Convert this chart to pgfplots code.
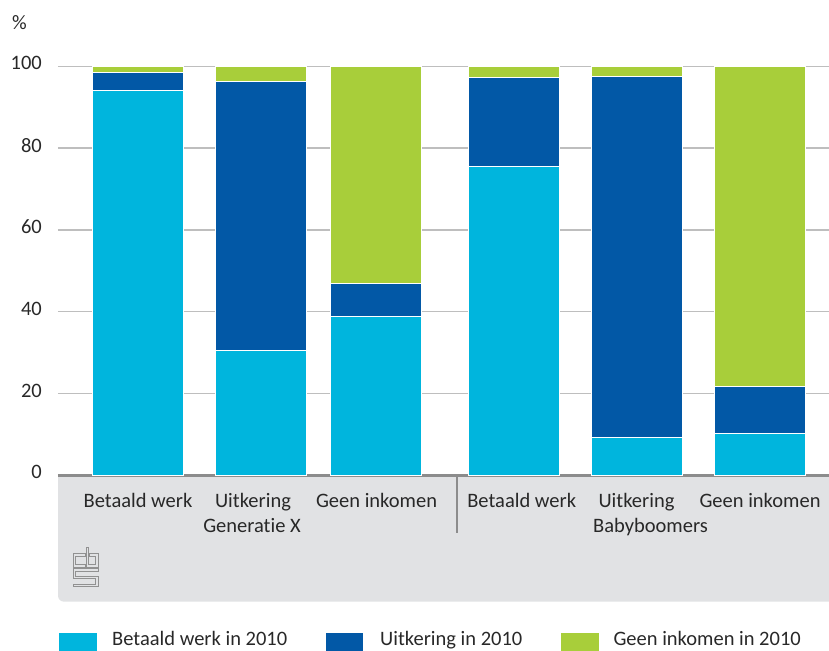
\documentclass[border=0pt]{standalone}
\usepackage{fontspec}
\setmainfont{Carlito}[Ligatures=NoCommon]
\usepackage{pgfplots}
\pgfplotsset{compat=1.18}
\definecolor{cbscyan}{RGB}{0,181,221}
\definecolor{cbsblue}{RGB}{2,88,166}
\definecolor{cbsgreen}{RGB}{168,206,58}
\definecolor{panel}{RGB}{225,226,228}
\definecolor{gridgray}{RGB}{190,190,190}
\definecolor{axisgray}{RGB}{140,140,140}
\definecolor{logogray}{RGB}{145,145,145}
\definecolor{txt}{RGB}{40,40,40}
\pgfplotstableread{
x a b c
138   94.2  4.3  1.5
261   30.6 65.6  3.8
376   38.8  8.0 53.2
514.3 75.5 21.7  2.8
637.2  9.2 88.3  2.5
760.2 10.1 11.7 78.2
}\datatable
\begin{document}
\fontsize{20.5}{24}\selectfont
\begin{tikzpicture}[x=1pt,y=1pt]
\useasboundingbox (0,0) rectangle (829,650);
% grey panel under the categories
\fill[panel, rounded corners=6pt] (58,48.3) rectangle (900,174.7);
\fill[panel] (58,150) rectangle (900,174.7);
\begin{axis}[
  at={(58pt,174.7pt)}, anchor=south west,
  scale only axis, width=771pt, height=409pt,
  xmin=58, xmax=829, ymin=0, ymax=100,
  clip=false,
  ybar stacked, bar width=91,
  axis line style={draw=none},
  major tick length=0pt,
  ytick={0,20,40,60,80,100},
  ymajorgrids, grid style={gridgray, line width=1.3pt},
  xtick={138,253,376.5,521.7,636.5,760},
  xticklabels={Betaald werk, Uitkering, Geen inkomen, Betaald werk, Uitkering, Geen inkomen},
  every tick label/.append style={font=\fontsize{20.5}{24}\selectfont, text=txt},
  /pgf/number format/assume math mode=true,
  yticklabel style={anchor=east, inner sep=0pt, xshift=-16pt, yshift=3pt},
  xticklabel style={anchor=base, inner sep=0pt, yshift=-32pt},
]
\addplot[fill=cbscyan, draw=white, line width=1pt] table[x=x, y=a] {\datatable};
\addplot[fill=cbsblue, draw=white, line width=1pt] table[x=x, y=b] {\datatable};
\addplot[fill=cbsgreen, draw=white, line width=1pt] table[x=x, y=c] {\datatable};
\draw[axisgray, line width=3pt] (axis cs:58,0) -- (axis cs:829,0);
\end{axis}
% group labels and separator
\node[anchor=base, inner sep=0pt, text=txt] at (252,117.3) {Generatie X};
\node[anchor=base, inner sep=0pt, text=txt] at (650.5,117.3) {Babyboomers};
\draw[axisgray, line width=1.2pt] (457,173) -- (457,117.3);
% % sign
\node[anchor=base west, inner sep=0pt, text=txt] at (12,620) {\%};
% cbs logo (outlined strokes)
\def\logoC{(84,95) -- (74.5,95) -- (74.5,84) -- (84,84)}
\def\logoB{(87.5,101.5) -- (87.5,84) -- (97,84) -- (97,95) -- (90.5,95)}
\def\logoS{(97,80) -- (74.5,80) -- (74.5,72.5) -- (97,72.5) -- (97,64.5) -- (74.5,64.5)}
\begin{scope}[line join=miter, line cap=rect]
\draw[logogray, line width=3.6pt] \logoC; \draw[logogray, line width=3.6pt] \logoB; \draw[logogray, line width=3.6pt] \logoS;
\draw[panel, line width=1.6pt] \logoC; \draw[panel, line width=1.6pt] \logoB; \draw[panel, line width=1.6pt] \logoS;
\end{scope}
% legend
\fill[cbscyan] (59,-5) rectangle (97,17.3);
\node[anchor=base west, inner sep=0pt, text=txt] at (112,5) {Betaald werk in 2010};
\fill[cbsblue] (325.7,-5) rectangle (363.3,17.3);
\node[anchor=base west, inner sep=0pt, text=txt] at (380,5) {Uitkering in 2010};
\fill[cbsgreen] (561,-5) rectangle (599,17.3);
\node[anchor=base west, inner sep=0pt, text=txt] at (613.3,5) {Geen inkomen in 2010};
\end{tikzpicture}
\end{document}
